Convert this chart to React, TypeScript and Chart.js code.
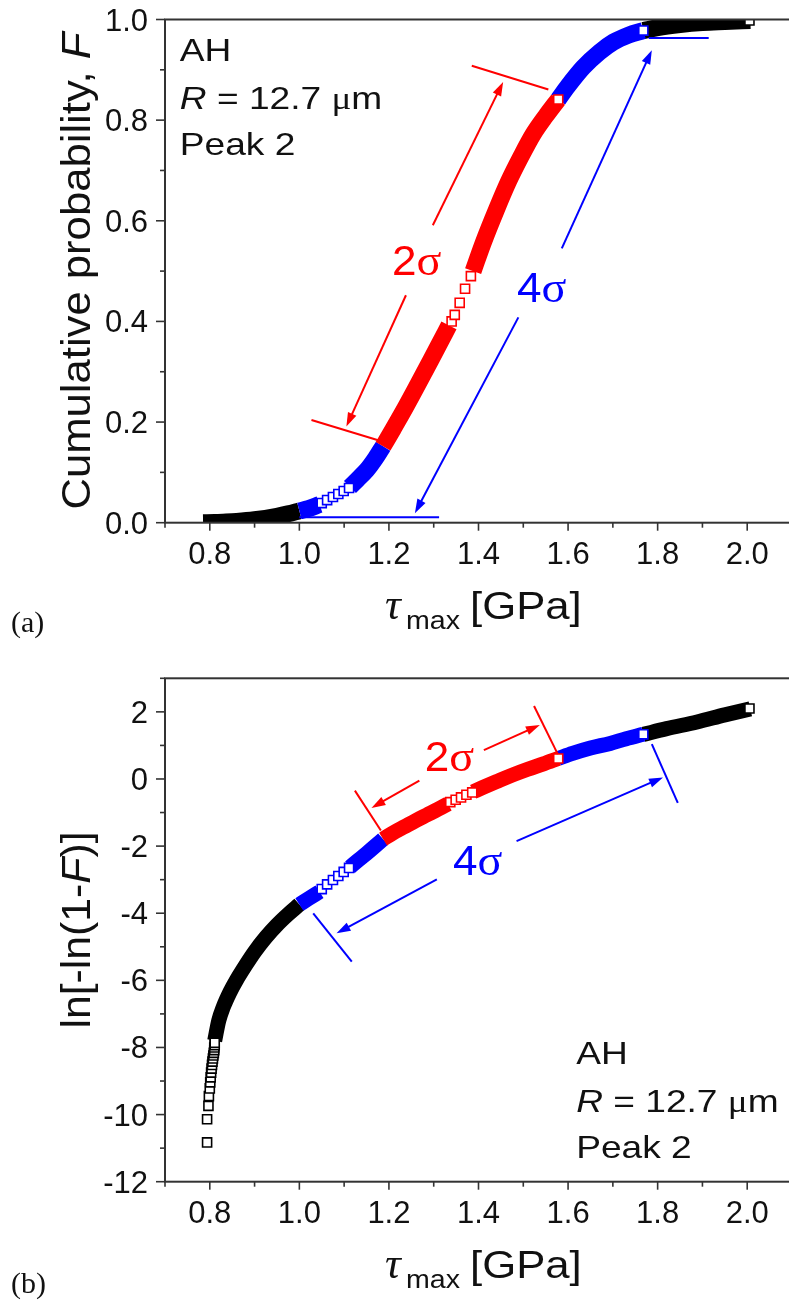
import React, { useEffect, useRef } from "react";
import { Chart, registerables } from "chart.js";

Chart.register(...registerables);

type Pt = [number, number];
type Seg = [number, number, number, number];

// ---------- Panel (a): cumulative probability F vs. tau_max [GPa] ----------
const aBlackLow: Pt[] = [[0.785, 0.0], [0.811, 0.0004], [0.83, 0.0011], [0.86, 0.0025], [0.9, 0.0058], [0.95, 0.0128], [0.975, 0.0176], [1.0, 0.0235]];
const aBlueLow1: Pt[] = [[1.0, 0.0235], [1.02, 0.028], [1.045, 0.036]];
const aBlueLowOpen: Pt[] = [[1.05, 0.039], [1.062, 0.045], [1.075, 0.051], [1.087, 0.057], [1.099, 0.063], [1.111, 0.069]];
const aBlueLow2: Pt[] = [[1.113, 0.071], [1.13, 0.086], [1.15, 0.104], [1.17, 0.128], [1.187, 0.152]];
const aRed1: Pt[] = [[1.187, 0.152], [1.21, 0.187], [1.235, 0.226], [1.26, 0.267], [1.285, 0.309], [1.31, 0.351], [1.334, 0.392]];
const aRedOpen: Pt[] = [[1.34, 0.4], [1.347, 0.413], [1.358, 0.437], [1.37, 0.465], [1.383, 0.49]];
const aRed2: Pt[] = [[1.388, 0.5], [1.41, 0.555], [1.44, 0.622], [1.467, 0.678], [1.495, 0.728], [1.522, 0.772], [1.55, 0.808], [1.578, 0.841]];
const aRedEnd: Pt[] = [[1.578, 0.841]];
const aBlueHigh: Pt[] = [[1.578, 0.841], [1.6, 0.868], [1.634, 0.905], [1.67, 0.935], [1.701, 0.955], [1.735, 0.969], [1.768, 0.978]];
const aBlueEnd: Pt[] = [[1.768, 0.978]];
const aBlackHigh: Pt[] = [[1.768, 0.978], [1.8, 0.984], [1.85, 0.99], [1.9, 0.994], [1.95, 0.996], [2.007, 0.998]];
const aBlackEnd: Pt[] = [[2.005, 0.998]];

const aRedBrackets: Seg[] = [[1.385, 0.908, 1.556, 0.861], [1.027, 0.204, 1.187, 0.161]];
const aRedArrows: Seg[] = [[1.298, 0.591, 1.455, 0.876], [1.238, 0.452, 1.105, 0.191]];
const aBlueBrackets: Seg[] = [[1.78, 0.963, 1.914, 0.963], [1.0, 0.011, 1.312, 0.011]];
const aBlueArrows: Seg[] = [[1.586, 0.545, 1.787, 0.939], [1.489, 0.408, 1.258, 0.019]];

// ---------- Panel (b): ln[-ln(1-F)] vs. tau_max [GPa] ----------
const bBlackLowOpen: Pt[] = [[0.794, -10.83], [0.794, -10.14], [0.797, -9.74], [0.798, -9.45], [0.8, -9.22], [0.801, -9.04], [0.802, -8.89], [0.803, -8.75], [0.804, -8.63], [0.805, -8.52], [0.806, -8.42], [0.807, -8.33], [0.808, -8.24], [0.809, -8.16], [0.81, -8.08], [0.81, -8.0], [0.811, -7.93], [0.811, -7.86]];
const bBlackLow: Pt[] = [[0.811, -7.8], [0.82, -7.2], [0.83, -6.8], [0.845, -6.35], [0.86, -5.98], [0.88, -5.55], [0.9, -5.15], [0.925, -4.72], [0.95, -4.35], [0.975, -4.03], [1.0, -3.74]];
const bBlueLow1: Pt[] = [[1.0, -3.74], [1.02, -3.57], [1.045, -3.36]];
const bBlueLowOpen: Pt[] = [[1.05, -3.28], [1.062, -3.14], [1.075, -3.01], [1.087, -2.89], [1.099, -2.77], [1.111, -2.65]];
const bBlueLow2: Pt[] = [[1.113, -2.63], [1.13, -2.44], [1.15, -2.22], [1.17, -1.99], [1.187, -1.79]];
const bRed1: Pt[] = [[1.187, -1.79], [1.21, -1.6], [1.235, -1.42], [1.26, -1.24], [1.285, -1.07], [1.31, -0.9], [1.332, -0.74]];
const bRedOpen: Pt[] = [[1.337, -0.69], [1.349, -0.62], [1.361, -0.55], [1.373, -0.47], [1.386, -0.4]];
const bRed2: Pt[] = [[1.388, -0.38], [1.41, -0.25], [1.44, -0.08], [1.478, 0.13], [1.51, 0.29], [1.545, 0.45], [1.578, 0.61]];
const bRedEnd: Pt[] = [[1.578, 0.61]];
const bBlueHigh: Pt[] = [[1.578, 0.61], [1.61, 0.76], [1.65, 0.92], [1.694, 1.06], [1.73, 1.2], [1.768, 1.33]];
const bBlueEnd: Pt[] = [[1.768, 1.33]];
const bBlackHigh: Pt[] = [[1.768, 1.33], [1.82, 1.5], [1.888, 1.7], [1.95, 1.91], [2.007, 2.09]];
const bBlackEnd: Pt[] = [[2.005, 2.1]];

const bRedBrackets: Seg[] = [[1.524, 2.175, 1.577, 0.742], [1.124, -0.347, 1.182, -1.534]];
const bRedArrows: Seg[] = [[1.412, 0.861, 1.537, 1.611], [1.268, -0.05, 1.161, -0.861]];
const bBlueBrackets: Seg[] = [[1.787, 1.039, 1.845, -0.712], [1.031, -4.006, 1.117, -5.442]];
const bBlueArrows: Seg[] = [[1.485, -1.852, 1.812, 0.047], [1.307, -2.988, 1.083, -4.599]];

// ---------- Axes ----------
const xMajor = [0.8, 1.0, 1.2, 1.4, 1.6, 1.8, 2.0];
const xMinor = [0.7, 0.9, 1.1, 1.3, 1.5, 1.7, 1.9, 2.1];
const aYMajor = [0.0, 0.2, 0.4, 0.6, 0.8, 1.0];
const aYMinor = [0.1, 0.3, 0.5, 0.7, 0.9];
const bYMajor = [-12, -10, -8, -6, -4, -2, 0, 2];
const bYMinor = [-11, -9, -7, -5, -3, -1, 1, 3];

const SANS = '"Liberation Sans", Arial, Helvetica, sans-serif';
const SERIF = '"Liberation Serif", "Times New Roman", serif';
const RED = "#ff0000";
const BLUE = "#0000ff";
const BLACK = "#000000";
const INK = "#111111";
const AXIS = "#333333";

type Run = { t: string; font: string; dy?: number };

function runsWidth(ctx: CanvasRenderingContext2D, runs: Run[]) {
  let w = 0;
  for (const r of runs) {
    ctx.font = r.font;
    w += ctx.measureText(r.t).width;
  }
  return w;
}

function drawRuns(
  ctx: CanvasRenderingContext2D,
  runs: Run[],
  x: number,
  y: number,
  o: { sx?: number; rot?: number; center?: boolean; color?: string } = {}
) {
  ctx.save();
  ctx.translate(x, y);
  if (o.rot) ctx.rotate(o.rot);
  ctx.scale(o.sx ?? 1, 1);
  ctx.textBaseline = "alphabetic";
  ctx.textAlign = "left";
  ctx.fillStyle = o.color || INK;
  let cx = o.center ? -runsWidth(ctx, runs) / 2 : 0;
  for (const r of runs) {
    ctx.font = r.font;
    ctx.fillText(r.t, cx, r.dy || 0);
    cx += ctx.measureText(r.t).width;
  }
  ctx.restore();
}

function seg(ctx: CanvasRenderingContext2D, x1: number, y1: number, x2: number, y2: number) {
  ctx.beginPath();
  ctx.moveTo(x1, y1);
  ctx.lineTo(x2, y2);
  ctx.stroke();
}

function arrow(ctx: CanvasRenderingContext2D, x1: number, y1: number, x2: number, y2: number, color: string) {
  const ang = Math.atan2(y2 - y1, x2 - x1);
  const len = 14;
  const half = 4.6;
  const bx = x2 - len * Math.cos(ang);
  const by = y2 - len * Math.sin(ang);
  ctx.strokeStyle = color;
  ctx.fillStyle = color;
  ctx.lineWidth = 2;
  seg(ctx, x1, y1, bx + 2 * Math.cos(ang), by + 2 * Math.sin(ang));
  ctx.beginPath();
  ctx.moveTo(x2, y2);
  ctx.lineTo(bx - half * Math.sin(ang), by + half * Math.cos(ang));
  ctx.lineTo(bx + half * Math.sin(ang), by - half * Math.cos(ang));
  ctx.closePath();
  ctx.fill();
}

type Panel = {
  id: string;
  letter: string;
  letterY: number;
  yMin: number;
  yMax: number;
  padTop: number;
  xAxisH: number;
  band: number;
  yMajor: number[];
  yMinor: number[];
  yFmt: (v: number) => string;
  yTitle: Run[];
  yTitleLen: number;
  info: [number, number];
  sigma2: [number, number];
  sigma4: [number, number];
  redBrackets: Seg[];
  redArrows: Seg[];
  blueBrackets: Seg[];
  blueArrows: Seg[];
  layers: { pts: Pt[]; color: string; open: boolean }[];
};

const panelA: Panel = {
  id: "a",
  letter: "(a)",
  letterY: 632,
  yMin: 0,
  yMax: 1,
  padTop: 19.5,
  xAxisH: 127.3,
  band: 17,
  yMajor: aYMajor,
  yMinor: aYMinor,
  yFmt: (v) => v.toFixed(1),
  yTitle: [
    { t: "Cumulative probability, ", font: `41px ${SANS}` },
    { t: "F", font: `italic 41px ${SANS}` },
  ],
  yTitleLen: 477,
  info: [0.733, 0.9175],
  sigma2: [1.207, 0.492],
  sigma4: [1.486, 0.438],
  redBrackets: aRedBrackets,
  redArrows: aRedArrows,
  blueBrackets: aBlueBrackets,
  blueArrows: aBlueArrows,
  layers: [
    { pts: aRedOpen, color: RED, open: true },
    { pts: aRedEnd, color: RED, open: true },
    { pts: aRed1, color: RED, open: false },
    { pts: aRed2, color: RED, open: false },
    { pts: aBlueLowOpen, color: BLUE, open: true },
    { pts: aBlueEnd, color: BLUE, open: true },
    { pts: aBlueLow1, color: BLUE, open: false },
    { pts: aBlueLow2, color: BLUE, open: false },
    { pts: aBlueHigh, color: BLUE, open: false },
    { pts: aBlackEnd, color: BLACK, open: true },
    { pts: aBlackLow, color: BLACK, open: false },
    { pts: aBlackHigh, color: BLACK, open: false },
  ],
};

const panelB: Panel = {
  id: "b",
  letter: "(b)",
  letterY: 643,
  yMin: -12,
  yMax: 3,
  padTop: 28.3,
  xAxisH: 120.3,
  band: 15,
  yMajor: bYMajor,
  yMinor: bYMinor,
  yFmt: (v) => String(v),
  yTitle: [
    { t: "ln[-ln(1-", font: `40px ${SANS}` },
    { t: "F", font: `italic 40px ${SANS}` },
    { t: ")]", font: `40px ${SANS}` },
  ],
  yTitleLen: 197,
  info: [1.618, -8.507],
  sigma2: [1.28, 0.246],
  sigma4: [1.343, -2.866],
  redBrackets: bRedBrackets,
  redArrows: bRedArrows,
  blueBrackets: bBlueBrackets,
  blueArrows: bBlueArrows,
  layers: [
    { pts: bRedOpen, color: RED, open: true },
    { pts: bRedEnd, color: RED, open: true },
    { pts: bRed1, color: RED, open: false },
    { pts: bRed2, color: RED, open: false },
    { pts: bBlueLowOpen, color: BLUE, open: true },
    { pts: bBlueEnd, color: BLUE, open: true },
    { pts: bBlueLow1, color: BLUE, open: false },
    { pts: bBlueLow2, color: BLUE, open: false },
    { pts: bBlueHigh, color: BLUE, open: false },
    { pts: bBlackLowOpen, color: BLACK, open: true },
    { pts: bBlackEnd, color: BLACK, open: true },
    { pts: bBlackLow, color: BLACK, open: false },
    { pts: bBlackHigh, color: BLACK, open: false },
  ],
};

function panelPlugin(p: Panel) {
  return {
    id: "panelDecor_" + p.id,
    afterDraw(chart: any) {
      const ctx: CanvasRenderingContext2D = chart.ctx;
      const { left, right, top, bottom } = chart.chartArea;
      const xs = chart.scales.x;
      const ys = chart.scales.y;
      const X = (v: number) => xs.getPixelForValue(v);
      const Y = (v: number) => ys.getPixelForValue(v);
      ctx.save();

      // frame
      ctx.strokeStyle = AXIS;
      ctx.lineWidth = 2;
      ctx.strokeRect(left, top, right - left, bottom - top);

      // ticks
      ctx.lineWidth = 1.6;
      for (const v of xMajor) seg(ctx, X(v), bottom, X(v), bottom + 8);
      for (const v of xMinor) seg(ctx, X(v), bottom, X(v), bottom + 5);
      for (const v of p.yMajor) seg(ctx, left, Y(v), left - 9, Y(v));
      for (const v of p.yMinor) seg(ctx, left, Y(v), left - 5, Y(v));

      // tick labels
      ctx.fillStyle = INK;
      ctx.font = `31px ${SANS}`;
      ctx.textBaseline = "alphabetic";
      ctx.textAlign = "center";
      for (const v of xMajor) ctx.fillText(v.toFixed(1), X(v), bottom + 41.5);
      ctx.textAlign = "right";
      for (const v of p.yMajor) ctx.fillText(p.yFmt(v), left - 17, Y(v) + 11);

      // x title: tau_max [GPa]
      const tx = 385;
      const ty = bottom + 96;
      drawRuns(ctx, [{ t: "\u03c4", font: `italic 44px ${SERIF}` }], tx, ty);
      drawRuns(ctx, [{ t: "max", font: `26px ${SANS}` }], tx + 21, ty + 10, { sx: 1.1 });
      drawRuns(ctx, [{ t: "[GPa]", font: `38px ${SANS}` }], tx + 85, ty, { sx: 1.15 });

      // y title (rotated)
      const w = runsWidth(ctx, p.yTitle);
      drawRuns(ctx, p.yTitle, 90, (top + bottom) / 2, {
        rot: -Math.PI / 2,
        center: true,
        sx: p.yTitleLen / w,
      });

      // sample information block
      const ix = X(p.info[0]);
      const iy = Y(p.info[1]);
      const f = `32px ${SANS}`;
      drawRuns(ctx, [{ t: "AH", font: f }], ix, iy, { sx: 1.16 });
      drawRuns(
        ctx,
        [
          { t: "R", font: `italic 32px ${SANS}` },
          { t: " = 12.7 ", font: f },
          { t: "\u03bc", font: `32px ${SERIF}` },
          { t: "m", font: f },
        ],
        ix,
        iy + 48,
        { sx: 1.16 }
      );
      drawRuns(ctx, [{ t: "Peak 2", font: f }], ix, iy + 94, { sx: 1.16 });

      // sigma ranges
      ctx.lineWidth = 2;
      ctx.strokeStyle = RED;
      for (const s of p.redBrackets) seg(ctx, X(s[0]), Y(s[1]), X(s[2]), Y(s[3]));
      for (const s of p.redArrows) arrow(ctx, X(s[0]), Y(s[1]), X(s[2]), Y(s[3]), RED);
      ctx.strokeStyle = BLUE;
      ctx.lineWidth = 2;
      for (const s of p.blueBrackets) seg(ctx, X(s[0]), Y(s[1]), X(s[2]), Y(s[3]));
      for (const s of p.blueArrows) arrow(ctx, X(s[0]), Y(s[1]), X(s[2]), Y(s[3]), BLUE);

      drawRuns(
        ctx,
        [
          { t: "2", font: `42px ${SANS}` },
          { t: "\u03c3", font: `44px ${SERIF}` },
        ],
        X(p.sigma2[0]),
        Y(p.sigma2[1]),
        { color: RED, sx: 1.05 }
      );
      drawRuns(
        ctx,
        [
          { t: "4", font: `42px ${SANS}` },
          { t: "\u03c3", font: `44px ${SERIF}` },
        ],
        X(p.sigma4[0]),
        Y(p.sigma4[1]),
        { color: BLUE, sx: 1.05 }
      );

      // panel letter
      ctx.fillStyle = INK;
      ctx.font = `30px ${SERIF}`;
      ctx.textAlign = "left";
      ctx.fillText(p.letter, 11, p.letterY);
      ctx.restore();
    },
  };
}

function buildConfig(p: Panel): any {
  const datasets = p.layers.map((l) =>
    l.open
      ? {
          data: l.pts.map(([x, y]) => ({ x, y })),
          showLine: false,
          pointStyle: "rect",
          pointRadius: 6.4,
          pointBorderWidth: 1.6,
          pointBorderColor: l.color,
          pointBackgroundColor: "#ffffff",
          clip: 0,
        }
      : {
          data: l.pts.map(([x, y]) => ({ x, y })),
          borderColor: l.color,
          backgroundColor: l.color,
          borderWidth: p.band,
          borderCapStyle: "butt",
          borderJoinStyle: "round",
          cubicInterpolationMode: "monotone",
          pointRadius: 0,
          fill: false,
          clip: 0,
        }
  );
  const axisBase = {
    type: "linear",
    ticks: { display: false },
    grid: { display: false },
    border: { display: false },
  };
  return {
    type: "line",
    data: { datasets },
    options: {
      animation: false,
      responsive: false,
      events: [],
      layout: { padding: { top: p.padTop, right: 8, left: 0, bottom: 0 } },
      plugins: { legend: { display: false }, tooltip: { enabled: false } },
      scales: {
        x: {
          ...axisBase,
          min: 0.7,
          max: 2.1,
          afterFit: (s: any) => {
            s.height = p.xAxisH;
          },
        },
        y: {
          ...axisBase,
          min: p.yMin,
          max: p.yMax,
          afterFit: (s: any) => {
            s.width = 165;
          },
        },
      },
    },
    plugins: [panelPlugin(p)],
  };
}

export default function App() {
  const refA = useRef<HTMLCanvasElement>(null);
  const refB = useRef<HTMLCanvasElement>(null);

  useEffect(() => {
    const a = new Chart(refA.current as HTMLCanvasElement, buildConfig(panelA));
    const b = new Chart(refB.current as HTMLCanvasElement, buildConfig(panelB));
    return () => {
      a.destroy();
      b.destroy();
    };
  }, []);

  return (
    <div
      style={{
        position: "absolute",
        left: 0,
        top: 0,
        width: 789,
        height: 1302,
        overflow: "hidden",
        background: "#ffffff",
      }}
    >
      <canvas ref={refA} width={800} height={650} style={{ position: "absolute", left: 0, top: 0, display: "block" }} />
      <canvas ref={refB} width={800} height={652} style={{ position: "absolute", left: 0, top: 650, display: "block" }} />
    </div>
  );
}
